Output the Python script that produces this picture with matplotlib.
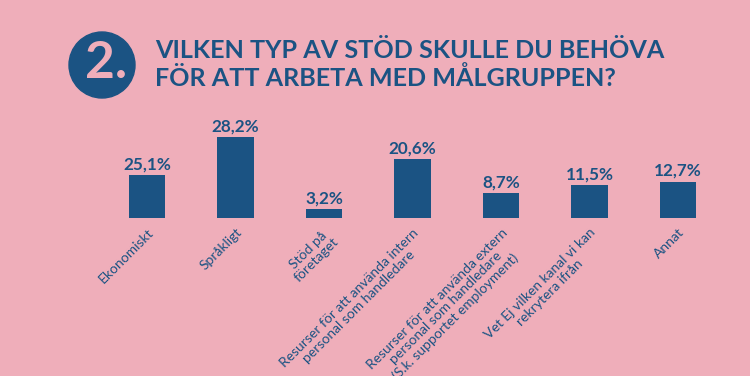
import matplotlib.pyplot as plt
from matplotlib.patches import Ellipse

# Data
categories = [
    "Ekonomiskt",
    "Språkligt",
    "Stöd på\nföretaget",
    "Resurser för att använda intern\npersonal som handledare",
    "Resurser för att använda extern\npersonal som handledare\n(S.k. supportet employment)",
    "Vet Ej vilken kanal vi kan\nrekrytera ifrån",
    "Annat",
]
shares = [25.1, 28.2, 3.2, 20.6, 8.7, 11.5, 12.7]
# the source draws the Ekonomiskt bar shorter than its label says
bar_heights = [15.0, 28.2, 3.2, 20.6, 8.7, 11.5, 12.7]

W, H = 750, 376
PINK = "#EFAEBA"
BLUE = "#1B5383"

fig = plt.figure(figsize=(W / 100, H / 100), dpi=100, facecolor=PINK)

# numbered circle + title
fig.add_artist(Ellipse((102 / W, 1 - 65 / H), 66 / W, 66 / H,
                       transform=fig.transFigure, color=BLUE))
fig.text(106 / W, 1 - 63 / H, "2.", color=PINK, fontsize=37, fontweight="bold",
         family="Lato", ha="center", va="center")
fig.text(155 / W, 1 - 50 / H, "VILKEN TYP AV STÖD SKULLE DU BEHÖVA",
         color=BLUE, fontsize=18.1, fontweight="bold", family="Lato",
         ha="left", va="center")
fig.text(155 / W, 1 - 78 / H, "FÖR ATT ARBETA MED MÅLGRUPPEN?",
         color=BLUE, fontsize=18.1, fontweight="bold", family="Lato",
         ha="left", va="center")

ax = fig.add_axes([102.75 / W, 158 / H, 619.5 / W, 86 / H])
ax.set_facecolor(PINK)
x = list(range(len(categories)))
ax.bar(x, bar_heights, width=0.41, color=BLUE)
ax.set_xlim(-0.5, len(categories) - 0.5)
ax.set_ylim(0, 30)
ax.axis("off")

for i, (h, s) in enumerate(zip(bar_heights, shares)):
    ax.annotate("{:.1f}%".format(s).replace(".", ","), (i, h),
                xytext=(0, 2), textcoords="offset points",
                ha="center", va="bottom", color=BLUE, fontsize=12.3,
                fontweight="bold", family="Lato")
    ax.annotate(categories[i], (i, 0), xytext=(0, -6), textcoords="offset points",
                ha="right", va="top", rotation=45, rotation_mode="anchor",
                multialignment="center", color=BLUE, fontsize=10,
                family="Lato", linespacing=1.05, annotation_clip=False)

fig.savefig("out.png", dpi=100, facecolor=PINK)
